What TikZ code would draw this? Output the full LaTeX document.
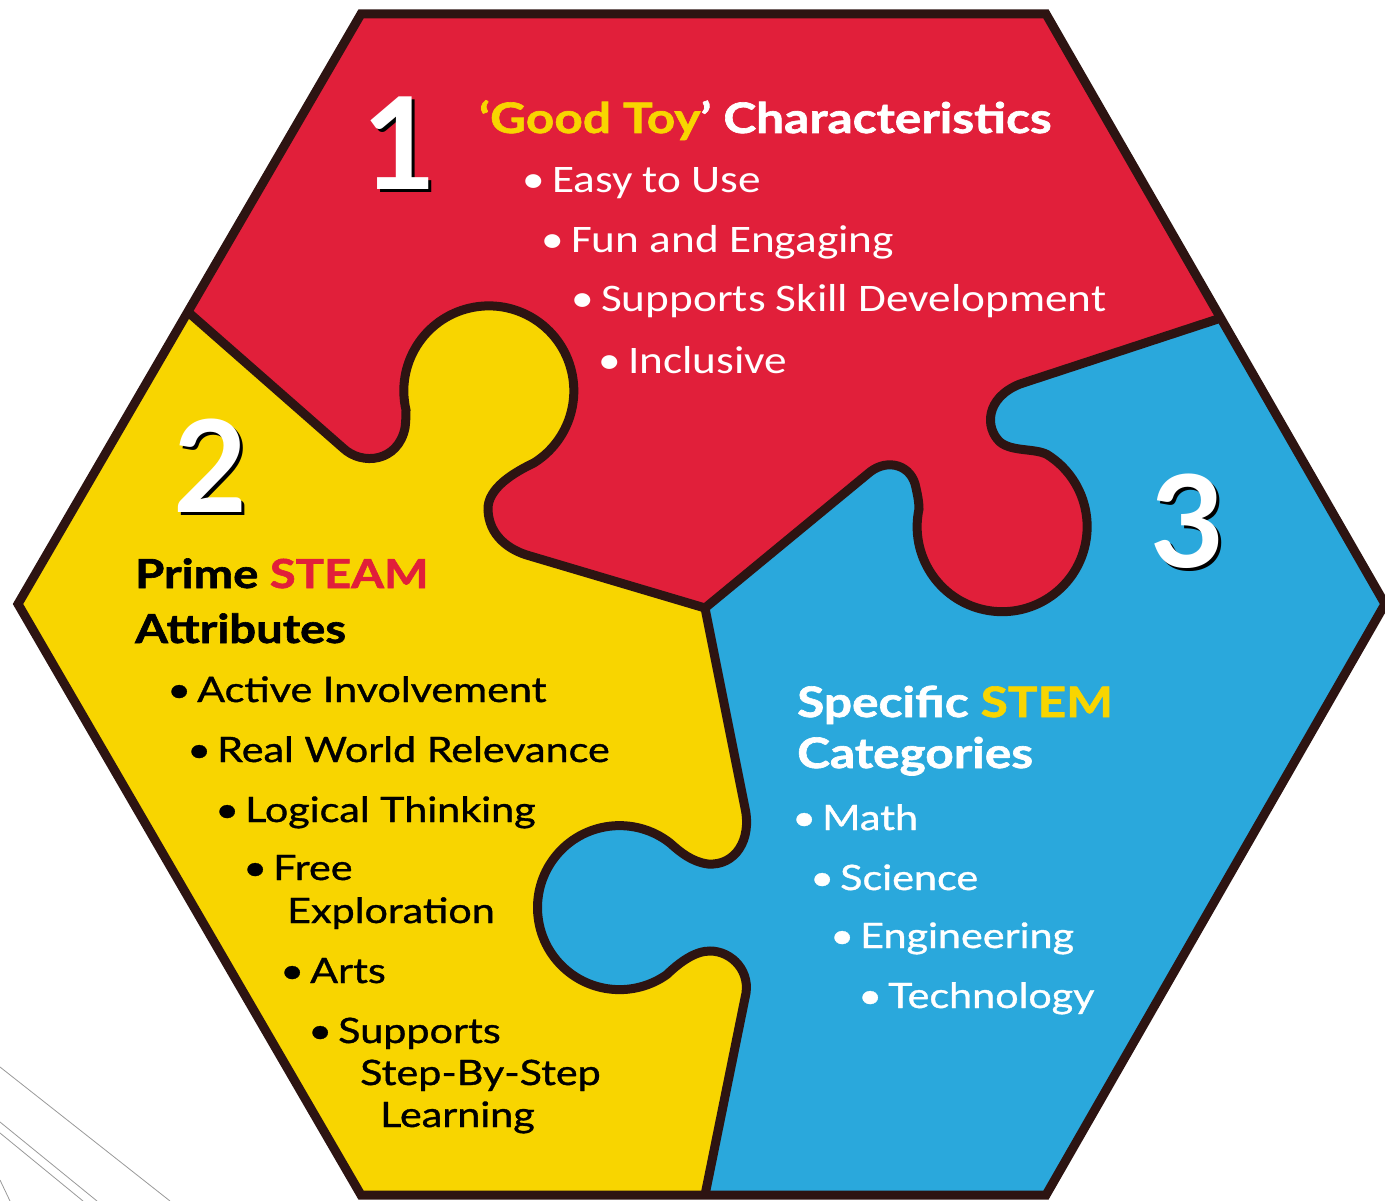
\documentclass[tikz,border=0pt]{standalone}
\usepackage{fontspec}
\setmainfont{Lato}
\newfontfamily\headfont{Lato}[FakeStretch=1.18, BoldFeatures={FakeBold=1.5}]
\newfontfamily\digfont{Lato}
\newfontfamily\bodyfont{Lato}[FakeBold=1, FakeStretch=1.18]
\newfontfamily\redfont{Carlito}[FakeStretch=1.16]
\definecolor{redp}{HTML}{E11F3A}
\definecolor{yelp}{HTML}{F8D500}
\definecolor{bluep}{HTML}{2AA8DC}
\definecolor{outl}{HTML}{2D1412}
\newcommand\bul{\makebox[25pt][l]{\hspace{-5pt}\textbullet}}
% the three cuts between the pieces
\def\cutA{-- (343,448) .. controls (362,466) and (398,462) .. (405,428) .. controls (406,420) and (406,415) .. (406,410) arc[start angle=167, end angle=418, radius=85] .. controls (515,472) and (487,488) .. (488,510) .. controls (489,535) and (508,550) .. (530,556) -- (705,608)}
\def\cutB{-- (870,472) .. controls (888,458) and (912,465) .. (916,488) .. controls (918,497) and (919,503) .. (919,509) arc[start angle=192, end angle=-58, radius=85] .. controls (1035,448) and (1012,452) .. (1000,442) .. controls (985,428) and (985,398) .. (1020,384) -- (1221,318)}
\def\cutC{-- (745,808) .. controls (752,840) and (735,866) .. (708,864) .. controls (692,862) and (680,852) .. (670,843) arc[start angle=-52, end angle=-305, radius=82] .. controls (680,962) and (695,951) .. (710,951) .. controls (732,951) and (752,972) .. (745,998) -- (705,1195)}
\begin{document}
\begin{tikzpicture}[x=1pt,y=-1pt,
  edge/.style={line width=9pt, draw=outl, line join=miter},
  deco/.style={line width=0.8pt, draw=black!40},
  digit/.style={anchor=base west, inner sep=0pt, text=white, font=\digfont\bfseries\fontsize{128}{128}\selectfont},
  shadow/.style={digit, text=black},
  redhead/.style={anchor=base west, inner sep=0pt, text=white, font=\headfont\bfseries\fontsize{42}{42}\selectfont},
  redtxt/.style={anchor=base west, inner sep=0pt, text=white, font=\redfont\fontsize{39}{39}\selectfont},
  yelhead/.style={anchor=base west, inner sep=0pt, text=black, font=\headfont\bfseries\fontsize{40}{40}\selectfont},
  yeltxt/.style={anchor=base west, inner sep=0pt, text=black, font=\bodyfont\fontsize{35}{35}\selectfont},
  bluehead/.style={anchor=base west, inner sep=0pt, text=white, font=\headfont\bfseries\fontsize{42}{42}\selectfont},
  bluetxt/.style={anchor=base west, inner sep=0pt, text=white, font=\bodyfont\fontsize{35}{35}\selectfont}]
\useasboundingbox (0,0) rectangle (1385,1201);

% pieces
\fill[redp] (361,14) -- (1046,14) -- (1385,604) -- (1046,1195) -- (361,1195) -- (18,604) -- cycle;
\fill[bluep] (705,608) \cutB -- (1385,604) -- (1046,1195) -- (530,1195) -- (530,800) -- cycle;
\fill[yelp] (188,312) \cutA \cutC -- (361,1195) -- (18,604) -- cycle;

% outlines
\draw[edge] (188,312) \cutA \cutB;
\draw[edge] (705,608) \cutC;
\draw[edge] (361,14) -- (1046,14) -- (1385,604) -- (1046,1195) -- (361,1195) -- (18,604) -- cycle;

% lines in the corner
\draw[deco] (0,1067) -- (170,1201);
\draw[deco] (0,1122) -- (97,1201);
\draw[deco] (0,1133) -- (83,1201);
\draw[deco] (0,1180) -- (10,1201);

% numbers
\node[shadow] (n1s) at (365,193) {1};
\node[digit] (n1) at (362,190) {1};
\node[shadow] (n2s) at (176,515) {2};
\node[digit] (n2) at (173,512) {2};
\node[shadow] (n3s) at (1153,570) {3};
\node[digit] (n3) at (1150,567) {3};

% red piece
\node[redhead] (ttl1) at (479,133) {\textcolor{yelp}{‘Good Toy}’ Characteristics};
\node[redtxt] (easy) at (527,193) {\bul Easy to Use};
\node[redtxt] (fun) at (546,253) {\bul Fun and Engaging};
\node[redtxt] (skill) at (576,312) {\bul Supports Skill Development};
\node[redtxt] (incl) at (603,373) {\bul Inclusive};

% yellow piece
\node[yelhead] (ttl2) at (135,588) {Prime \textcolor{redp}{STEAM}};
\node[yelhead] (ttl2b) at (135,643) {Attributes};
\node[yeltxt] (active) at (172,702) {\bul Active Involvement};
\node[yeltxt] (real) at (192,762) {\bul Real World Relevance};
\node[yeltxt] (logic) at (220,822) {\bul Logical Thinking};
\node[yeltxt] (free) at (248,880) {\bul Free};
\node[yeltxt] (explo) at (287,923) {Exploration};
\node[yeltxt] (arts) at (285,983) {\bul Arts};
\node[yeltxt] (supp) at (313,1043) {\bul Supports};
\node[yeltxt] (step) at (360,1085) {Step-By-Step};
\node[yeltxt] (learn) at (380,1127) {Learning};

% blue piece
\node[bluehead] (ttl3) at (797,717) {Specific \textcolor{yelp}{STEM}};
\node[bluehead] (ttl3b) at (797,768) {Categories};
\node[bluetxt] (math) at (797,830) {\bul Math};
\node[bluetxt] (sci) at (815,890) {\bul Science};
\node[bluetxt] (eng) at (835,948) {\bul Engineering};
\node[bluetxt] (tech) at (863,1008) {\bul Technology};
\end{tikzpicture}
\end{document}
